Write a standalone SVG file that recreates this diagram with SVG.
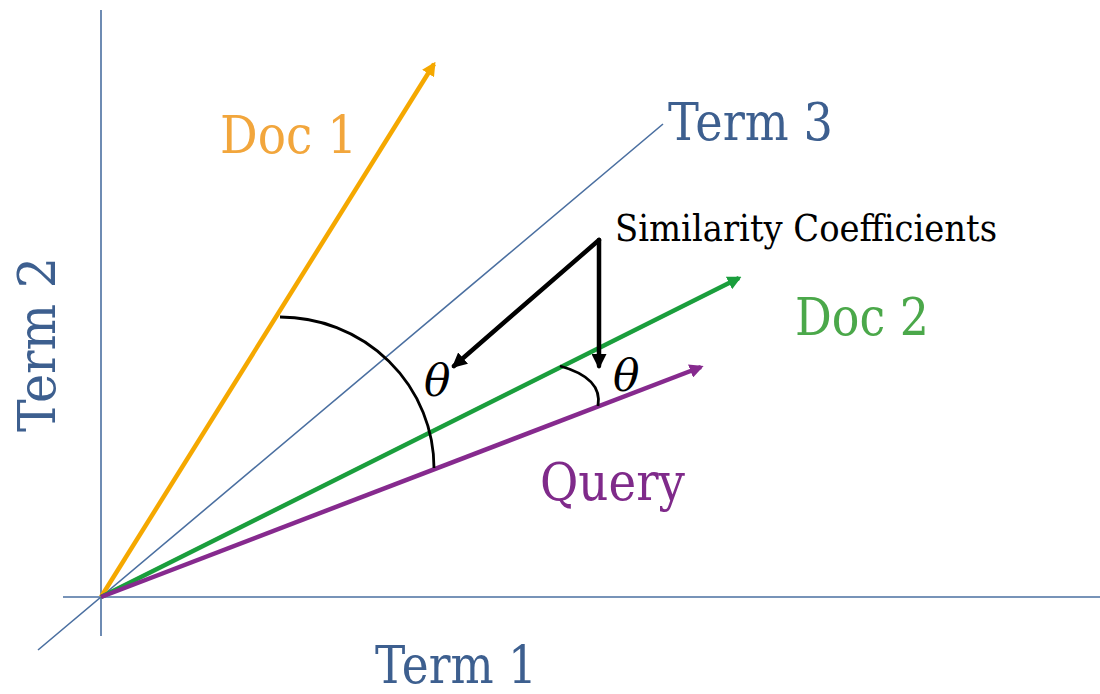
<svg xmlns="http://www.w3.org/2000/svg" width="1100" height="694" viewBox="0 0 1100 694">
  <style>
    .axis { stroke: #4A6FA0; stroke-width: 1.6; fill: none; }
    .vec { stroke-width: 4.5; fill: none; stroke-linecap: butt; }
    .arc { stroke: #000; stroke-width: 2.8; fill: none; }
    .ptr { stroke: #000; stroke-width: 4.5; fill: none; }
    text { font-family: "DejaVu Serif", "Liberation Serif", "Times New Roman", serif; }
    .lbl { font-size: 52px; }
    .theta { font-style: italic; font-size: 44px; fill: #000; }
  </style>
  <defs>
    <marker id="headOrange" viewBox="0 0 10 10" refX="8" refY="5" markerWidth="14" markerHeight="14" markerUnits="userSpaceOnUse" orient="auto">
      <path d="M0,0 L10,5 L0,10 z" fill="#F5A800"/>
    </marker>
    <marker id="headGreen" viewBox="0 0 10 10" refX="8" refY="5" markerWidth="14" markerHeight="14" markerUnits="userSpaceOnUse" orient="auto">
      <path d="M0,0 L10,5 L0,10 z" fill="#1A9E3C"/>
    </marker>
    <marker id="headPurple" viewBox="0 0 10 10" refX="8" refY="5" markerWidth="14" markerHeight="14" markerUnits="userSpaceOnUse" orient="auto">
      <path d="M0,0 L10,5 L0,10 z" fill="#862A8E"/>
    </marker>
    <marker id="headBlack" viewBox="0 0 10 10" refX="8" refY="5" markerWidth="15" markerHeight="15" markerUnits="userSpaceOnUse" orient="auto">
      <path d="M0,0 L10,5 L0,10 z" fill="#000"/>
    </marker>
  </defs>

  <!-- axes and the Term 3 direction -->
  <g id="axes">
    <line class="axis" x1="101" y1="10" x2="101" y2="636"/>
    <line class="axis" x1="63" y1="597" x2="1100" y2="597"/>
    <line class="axis" x1="38" y1="650" x2="663" y2="124" stroke-width="1.4"/>
  </g>

  <!-- document and query vectors -->
  <g id="connectors">
    <line class="vec" stroke="#F5A800" x1="101" y1="597" x2="434" y2="64" marker-end="url(#headOrange)"/>
    <line class="vec" stroke="#1A9E3C" x1="101" y1="597" x2="739" y2="278" marker-end="url(#headGreen)"/>
    <line class="vec" stroke="#862A8E" x1="101" y1="597" x2="701" y2="367" marker-end="url(#headPurple)"/>
    <!-- angle arcs -->
    <path class="arc" d="M280,317 A154,151 0 0 1 434,468"/>
    <path class="arc" d="M560,366 Q603,378 598,406"/>
    <!-- pointers from the caption to the angles -->
    <line class="ptr" x1="599" y1="240" x2="454" y2="366" stroke-linecap="round" marker-end="url(#headBlack)"/>
    <line class="ptr" x1="599" y1="240" x2="599" y2="366" stroke-linecap="round" marker-end="url(#headBlack)"/>
  </g>

  <g id="term1"><text class="lbl" x="375" y="683" fill="#3D5F8F" textLength="162" lengthAdjust="spacingAndGlyphs">Term 1</text></g>
  <g id="term2"><text class="lbl" transform="translate(55,432) rotate(-90)" fill="#3D5F8F" font-size="56" textLength="175" lengthAdjust="spacingAndGlyphs">Term 2</text></g>
  <g id="term3"><text class="lbl" x="668" y="140" fill="#3D5F8F" textLength="165" lengthAdjust="spacingAndGlyphs">Term 3</text></g>
  <g id="doc1"><text class="lbl" x="220" y="153" fill="#F2A63C" textLength="137" lengthAdjust="spacingAndGlyphs">Doc 1</text></g>
  <g id="doc2"><text class="lbl" x="795" y="335" fill="#4BA84A" textLength="134" lengthAdjust="spacingAndGlyphs">Doc 2</text></g>
  <g id="query"><text class="lbl" x="540" y="500" fill="#7F2A8A" textLength="145" lengthAdjust="spacingAndGlyphs">Query</text></g>
  <g id="caption"><text x="615" y="241" font-size="38" fill="#000" textLength="382" lengthAdjust="spacingAndGlyphs">Similarity Coefficients</text></g>
  <g id="theta1"><text class="theta" x="424" y="396">θ</text></g>
  <g id="theta2"><text class="theta" x="613" y="391">θ</text></g>
</svg>
